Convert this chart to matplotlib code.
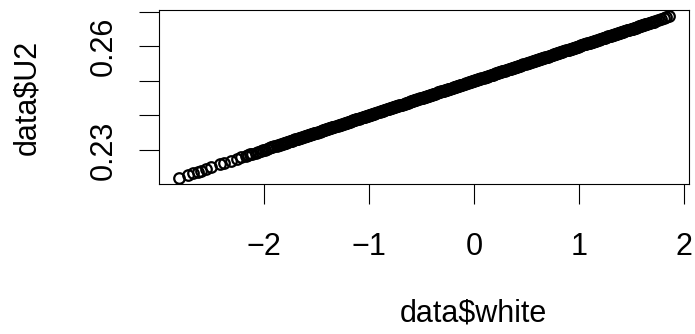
import numpy as np
import matplotlib.pyplot as plt

plt.rcParams['font.family'] = ['Liberation Sans', 'DejaVu Sans']

# values (sparse tail on the left, dense band, a few rings at the right end)
white = [
    -2.81, -2.72, -2.68, -2.63, -2.60, -2.55, -2.50, -2.42, -2.38, -2.31, -2.26, -2.22,
    -2.17, -2.15, -2.13, -2.11, -2.08, -2.06, -2.03, -2.01, -1.99, -1.97, -1.95, -1.93,
    -1.92, -1.90, -1.88, -1.87, -1.85, -1.84, -1.82, -1.81,
    -1.80, -1.79, -1.78, -1.77, -1.75, -1.74, -1.73, -1.72, -1.71,
    -1.70, -1.69, -1.68, -1.67, -1.66, -1.65, -1.64, -1.62, -1.61,
    -1.60, -1.59, -1.58, -1.57, -1.56, -1.55, -1.54, -1.53, -1.52, -1.51,
    -1.50, -1.49, -1.47, -1.46, -1.45, -1.44, -1.43, -1.42, -1.41,
    -1.40, -1.39, -1.38, -1.37, -1.36, -1.35, -1.34, -1.33, -1.31,
    -1.30, -1.29, -1.28, -1.27, -1.26, -1.24, -1.23, -1.22, -1.21,
    -1.20, -1.19, -1.18, -1.17, -1.16, -1.15, -1.14, -1.13, -1.12, -1.11,
    -1.10, -1.09, -1.08, -1.06, -1.05, -1.04, -1.03, -1.02, -1.01,
    -1.00, -0.99, -0.98, -0.97, -0.96, -0.95, -0.94, -0.93, -0.91,
    -0.90, -0.89, -0.88, -0.87, -0.86, -0.85, -0.83, -0.82, -0.81,
    -0.80, -0.79, -0.78, -0.77, -0.76, -0.75, -0.74, -0.73, -0.72, -0.71,
    -0.70, -0.69, -0.67, -0.66, -0.65, -0.64, -0.63, -0.62, -0.61,
    -0.60, -0.59, -0.58, -0.57, -0.56, -0.55, -0.54, -0.52, -0.51,
    -0.50, -0.49, -0.48, -0.47, -0.46, -0.45, -0.44, -0.43, -0.42, -0.41,
    -0.40, -0.39, -0.38, -0.37, -0.35, -0.34, -0.33, -0.32, -0.31,
    -0.30, -0.29, -0.28, -0.27, -0.26, -0.25, -0.24, -0.23, -0.21,
    -0.20, -0.19, -0.18, -0.17, -0.16, -0.15, -0.14, -0.13, -0.12, -0.11,
    -0.10, -0.09, -0.08, -0.06, -0.05, -0.04, -0.03, -0.02, -0.01,
    0.00, 0.01, 0.02, 0.03, 0.04, 0.05, 0.06, 0.07, 0.09,
    0.10, 0.11, 0.12, 0.13, 0.14, 0.16, 0.17, 0.18, 0.19,
    0.20, 0.21, 0.22, 0.23, 0.24, 0.25, 0.26, 0.27, 0.28, 0.29,
    0.30, 0.31, 0.33, 0.34, 0.35, 0.36, 0.37, 0.38, 0.39,
    0.40, 0.41, 0.42, 0.43, 0.44, 0.45, 0.46, 0.47, 0.49,
    0.50, 0.51, 0.52, 0.53, 0.55, 0.56, 0.57, 0.58, 0.59,
    0.60, 0.61, 0.62, 0.63, 0.64, 0.65, 0.66, 0.67, 0.68, 0.69,
    0.70, 0.71, 0.72, 0.74, 0.75, 0.76, 0.77, 0.78, 0.79,
    0.80, 0.81, 0.82, 0.83, 0.84, 0.85, 0.86, 0.88, 0.89,
    0.90, 0.91, 0.92, 0.93, 0.94, 0.95, 0.96, 0.97, 0.98, 0.99,
    1.00, 1.01, 1.02, 1.03, 1.05, 1.06, 1.07, 1.08, 1.09,
    1.10, 1.11, 1.12, 1.13, 1.14, 1.15, 1.16, 1.17, 1.19,
    1.20, 1.21, 1.23, 1.24, 1.25, 1.26, 1.27, 1.28, 1.29,
    1.30, 1.31, 1.32, 1.33, 1.34, 1.35, 1.36, 1.37, 1.38, 1.39,
    1.40, 1.41, 1.42, 1.43, 1.44, 1.46, 1.47, 1.48, 1.49,
    1.50, 1.51, 1.52, 1.53, 1.54, 1.55, 1.56, 1.57, 1.58, 1.59,
    1.60, 1.61, 1.62, 1.63, 1.64, 1.65, 1.67, 1.68, 1.69,
    1.70, 1.71, 1.72, 1.75, 1.78, 1.81, 1.83, 1.86,
]

u2 = [
    0.2219, 0.2228, 0.2232, 0.2237, 0.2240, 0.2245, 0.2250, 0.2258, 0.2262, 0.2269, 0.2274, 0.2278,
    0.2283, 0.2285, 0.2287, 0.2289, 0.2292, 0.2294, 0.2297, 0.2299, 0.2301, 0.2303, 0.2305, 0.2307,
    0.2308, 0.2310, 0.2312, 0.2313, 0.2315, 0.2316, 0.2318, 0.2319,
    0.2320, 0.2321, 0.2322, 0.2323, 0.2325, 0.2326, 0.2327, 0.2328, 0.2329,
    0.2330, 0.2331, 0.2332, 0.2333, 0.2334, 0.2335, 0.2336, 0.2338, 0.2339,
    0.2340, 0.2341, 0.2342, 0.2343, 0.2344, 0.2345, 0.2346, 0.2347, 0.2348, 0.2349,
    0.2350, 0.2351, 0.2353, 0.2354, 0.2355, 0.2356, 0.2357, 0.2358, 0.2359,
    0.2360, 0.2361, 0.2362, 0.2363, 0.2364, 0.2365, 0.2366, 0.2367, 0.2369,
    0.2370, 0.2371, 0.2372, 0.2373, 0.2374, 0.2376, 0.2377, 0.2378, 0.2379,
    0.2380, 0.2381, 0.2382, 0.2383, 0.2384, 0.2385, 0.2386, 0.2387, 0.2388, 0.2389,
    0.2390, 0.2391, 0.2392, 0.2394, 0.2395, 0.2396, 0.2397, 0.2398, 0.2399,
    0.2400, 0.2401, 0.2402, 0.2403, 0.2404, 0.2405, 0.2406, 0.2407, 0.2409,
    0.2410, 0.2411, 0.2412, 0.2413, 0.2414, 0.2415, 0.2417, 0.2418, 0.2419,
    0.2420, 0.2421, 0.2422, 0.2423, 0.2424, 0.2425, 0.2426, 0.2427, 0.2428, 0.2429,
    0.2430, 0.2431, 0.2433, 0.2434, 0.2435, 0.2436, 0.2437, 0.2438, 0.2439,
    0.2440, 0.2441, 0.2442, 0.2443, 0.2444, 0.2445, 0.2446, 0.2448, 0.2449,
    0.2450, 0.2451, 0.2452, 0.2453, 0.2454, 0.2455, 0.2456, 0.2457, 0.2458, 0.2459,
    0.2460, 0.2461, 0.2462, 0.2463, 0.2465, 0.2466, 0.2467, 0.2468, 0.2469,
    0.2470, 0.2471, 0.2472, 0.2473, 0.2474, 0.2475, 0.2476, 0.2477, 0.2479,
    0.2480, 0.2481, 0.2482, 0.2483, 0.2484, 0.2485, 0.2486, 0.2487, 0.2488, 0.2489,
    0.2490, 0.2491, 0.2492, 0.2494, 0.2495, 0.2496, 0.2497, 0.2498, 0.2499,
    0.2500, 0.2501, 0.2502, 0.2503, 0.2504, 0.2505, 0.2506, 0.2507, 0.2509,
    0.2510, 0.2511, 0.2512, 0.2513, 0.2514, 0.2516, 0.2517, 0.2518, 0.2519,
    0.2520, 0.2521, 0.2522, 0.2523, 0.2524, 0.2525, 0.2526, 0.2527, 0.2528, 0.2529,
    0.2530, 0.2531, 0.2533, 0.2534, 0.2535, 0.2536, 0.2537, 0.2538, 0.2539,
    0.2540, 0.2541, 0.2542, 0.2543, 0.2544, 0.2545, 0.2546, 0.2547, 0.2549,
    0.2550, 0.2551, 0.2552, 0.2553, 0.2555, 0.2556, 0.2557, 0.2558, 0.2559,
    0.2560, 0.2561, 0.2562, 0.2563, 0.2564, 0.2565, 0.2566, 0.2567, 0.2568, 0.2569,
    0.2570, 0.2571, 0.2572, 0.2574, 0.2575, 0.2576, 0.2577, 0.2578, 0.2579,
    0.2580, 0.2581, 0.2582, 0.2583, 0.2584, 0.2585, 0.2586, 0.2588, 0.2589,
    0.2590, 0.2591, 0.2592, 0.2593, 0.2594, 0.2595, 0.2596, 0.2597, 0.2598, 0.2599,
    0.2600, 0.2601, 0.2602, 0.2603, 0.2605, 0.2606, 0.2607, 0.2608, 0.2609,
    0.2610, 0.2611, 0.2612, 0.2613, 0.2614, 0.2615, 0.2616, 0.2617, 0.2619,
    0.2620, 0.2621, 0.2623, 0.2624, 0.2625, 0.2626, 0.2627, 0.2628, 0.2629,
    0.2630, 0.2631, 0.2632, 0.2633, 0.2634, 0.2635, 0.2636, 0.2637, 0.2638, 0.2639,
    0.2640, 0.2641, 0.2642, 0.2643, 0.2644, 0.2646, 0.2647, 0.2648, 0.2649,
    0.2650, 0.2651, 0.2652, 0.2653, 0.2654, 0.2655, 0.2656, 0.2657, 0.2658, 0.2659,
    0.2660, 0.2661, 0.2662, 0.2663, 0.2664, 0.2665, 0.2667, 0.2668, 0.2669,
    0.2670, 0.2671, 0.2672, 0.2675, 0.2678, 0.2681, 0.2683, 0.2686,
]

xticks = [-2, -1, 0, 1, 2]
yticks = [0.23, 0.24, 0.25, 0.26, 0.27]
ytick_labels = ['0.23', '', '', '0.26', '']

fig = plt.figure(figsize=(6.95, 3.34), dpi=100)
ax = fig.add_axes([0.2292, 0.4482, 0.7622, 0.5219])

ax.plot(white, u2, 'o', mfc='none', mec='black', ms=7.6, mew=1.6, ls='none')
ax.margins(x=0.04, y=0.04)

ax.set_xticks(xticks)
ax.set_xticklabels(['\u22122', '\u22121', '0', '1', '2'])
ax.set_yticks(yticks)
ax.set_yticklabels(ytick_labels, rotation=90, va='center', ha='right')

for s in ax.spines.values():
    s.set_linewidth(0.8)
ax.tick_params(axis='both', direction='out', length=14.4, width=0.8, labelsize=22)
ax.tick_params(axis='x', pad=20)
ax.tick_params(axis='y', pad=15)

ax.set_xlabel('data$white', fontsize=22, va='center')
ax.set_ylabel('data$U2', fontsize=22, va='center')
ax.xaxis.set_label_coords(473 / 695, 1 - 313 / 334, transform=fig.transFigure)
ax.yaxis.set_label_coords(27 / 695, 1 - 97 / 334, transform=fig.transFigure)

fig.savefig('out.png', dpi=100)
